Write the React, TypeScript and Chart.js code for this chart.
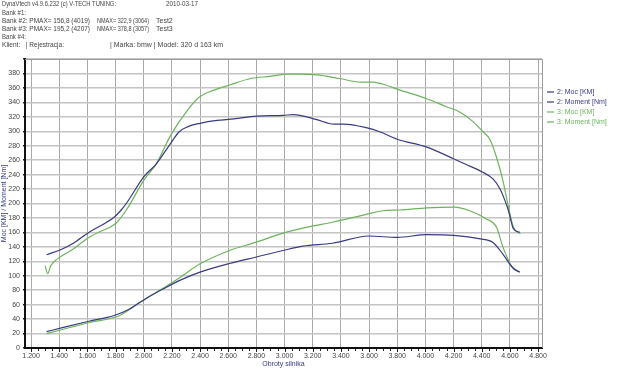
import React, { useEffect, useRef } from "react";
import { Chart, registerables } from "chart.js";

Chart.register(...registerables);

// ---- data ----
const rpmMoc2 = [1310, 1430, 1610, 1790, 1900, 2020, 2140, 2260, 2400, 2610, 2800, 2990, 3130, 3340, 3600, 3800, 4010, 4200, 4390, 4480, 4550, 4625, 4670];
const moc2 = [22.6, 28.6, 37, 45, 54, 69, 82, 94, 105, 117, 126, 135, 141, 145, 155, 153, 157, 156, 151, 146, 130, 110, 105];

const rpmMoment2 = [1310, 1410, 1500, 1610, 1700, 1790, 1840, 1880, 2000, 2090, 2190, 2250, 2310, 2400, 2520, 2640, 2800, 2990, 3060, 3110, 3230, 3350, 3420, 3580, 3680, 3800, 4010, 4200, 4290, 4400, 4480, 4530, 4565, 4590, 4625, 4670];
const moment2 = [129, 136, 145, 160, 170, 181, 191, 201, 237, 255, 283, 299, 306, 311, 315, 317, 321, 322, 323, 322, 316, 310, 310, 305, 299, 289, 278, 262, 254, 244, 234, 220, 204, 190, 165, 160];

const rpmMoc3 = [1310, 1430, 1610, 1830, 1970, 2140, 2260, 2400, 2610, 2800, 2990, 3180, 3340, 3580, 3700, 3820, 4010, 4210, 4315, 4430, 4505, 4550, 4610, 4670];
const moc3 = [20, 26, 35, 45, 63, 83, 98, 116.5, 135, 146.5, 159, 168, 174, 185, 190, 191, 194, 195, 190, 179, 167, 140, 114, 105];

const rpmMoment3 = [1300, 1318, 1340, 1385, 1500, 1610, 1700, 1760, 1810, 1880, 2000, 2090, 2190, 2310, 2400, 2500, 2610, 2760, 2900, 3020, 3110, 3230, 3390, 3540, 3630, 3700, 3820, 4010, 4150, 4240, 4340, 4400, 4460, 4505, 4550, 4590, 4625, 4675];
const moment3 = [114, 103, 114, 123, 137, 153, 162, 167, 174, 192, 232, 255, 294, 329, 348, 357, 364, 373, 376, 379, 379, 378, 373, 368, 368, 365, 357, 345, 334, 327, 313, 301, 288, 264, 232, 195, 167, 158];

const seriesLabels = ["2: Moc [KM]", "2: Moment [Nm]", "3: Moc [KM]", "3: Moment [Nm]"];

// [text, x, maxWidth]
const headerLines: [string, number, number][][] = [
  [["DynaVtech v4.9.6.232 (c) V-TECH TUNING:", 2, 114], ["2010-03-17", 166, 32]],
  [["Bank #1:", 2, 24]],
  [["Bank #2: PMAX= 156,8 (4019)", 2, 88], ["NMAX= 322,9 (3064)", 97, 52], ["Test2", 156, 20]],
  [["Bank #3: PMAX= 195,2 (4207)", 2, 88], ["NMAX= 378,8 (3057)", 97, 52], ["Test3", 156, 20]],
  [["Bank #4:", 2, 24]],
  [["Klient:   | Rejestracja:", 2, 62], ["| Marka: bmw | Model: 320 d 163 km", 110, 150]],
];

const xTitle = "Obroty silnika";
const yTitle = "Moc [KM] / Moment [Nm]";

const NAVY = "#3a3a82";
const GREEN = "#6db35e";
const FONT = "'Liberation Sans', Arial, sans-serif";

const zip = (xs: number[], ys: number[]) => xs.map((x, i) => ({ x, y: ys[i] }));

const fmtRpm = (v: number) => {
  const t = Math.floor(v / 1000);
  const r = Math.round(v % 1000);
  return t + "." + String(r).padStart(3, "0");
};

const overlayPlugin = {
  id: "overlay",
  beforeDraw(chart: any) {
    const ctx = chart.ctx;
    ctx.save();
    ctx.fillStyle = "#ffffff";
    ctx.fillRect(0, 0, chart.width, chart.height);
    ctx.restore();
  },
  afterDraw(chart: any) {
    const ctx = chart.ctx;
    const a = chart.chartArea;
    ctx.save();
    // header
    ctx.font = `7px ${FONT}`;
    ctx.fillStyle = "#444444";
    ctx.textBaseline = "middle";
    ctx.textAlign = "left";
    headerLines.forEach((line, i) => {
      line.forEach(([t, x, w]) => {
        const m = ctx.measureText(t).width;
        if (m > w) ctx.fillText(t, x, 4.5 + i * 8.2, w);
        else ctx.fillText(t, x, 4.5 + i * 8.2);
      });
    });
    // frame top/right
    ctx.strokeStyle = "#9a9a9a";
    ctx.lineWidth = 1;
    ctx.beginPath();
    ctx.moveTo(a.left, a.top + 0.5);
    ctx.lineTo(a.right + 0.5, a.top + 0.5);
    ctx.lineTo(a.right + 0.5, a.bottom);
    ctx.stroke();
    // minor ticks on x axis
    const xs = chart.scales.x;
    ctx.strokeStyle = "#222";
    ctx.beginPath();
    for (let v = 1200; v <= 4800; v += 50) {
      const px = Math.round(xs.getPixelForValue(v)) + 0.5;
      const len = v % 200 === 0 ? 3 : 2;
      ctx.moveTo(px, a.bottom + 1);
      ctx.lineTo(px, a.bottom + 1 + len);
    }
    ctx.stroke();
    // legend
    ctx.font = `7px ${FONT}`;
    chart.data.datasets.forEach((ds: any, i: number) => {
      const y = 92 + i * 10;
      ctx.strokeStyle = ds.borderColor;
      ctx.lineWidth = 1.2;
      ctx.beginPath();
      ctx.moveTo(547, y);
      ctx.lineTo(554, y);
      ctx.stroke();
      ctx.fillStyle = ds.borderColor;
      ctx.fillText(ds.label, 557, y);
    });
    ctx.restore();
  },
};

export default function App() {
  const ref = useRef<HTMLCanvasElement | null>(null);
  useEffect(() => {
    document.body.style.margin = "0";
    if (!ref.current) return;
    const mk = (label: string, data: any, color: string) => ({
      label,
      data,
      borderColor: color,
      backgroundColor: color,
      borderWidth: 1.2,
      pointRadius: 0,
      fill: false,
      cubicInterpolationMode: "monotone" as const,
    });
    const chart = new Chart(ref.current, {
      type: "line",
      data: {
        datasets: [
          mk(seriesLabels[0], zip(rpmMoc2, moc2), NAVY),
          mk(seriesLabels[1], zip(rpmMoment2, moment2), NAVY),
          mk(seriesLabels[2], zip(rpmMoc3, moc3), GREEN),
          mk(seriesLabels[3], zip(rpmMoment3, moment3), GREEN),
        ],
      },
      options: {
        animation: false,
        responsive: false,
        maintainAspectRatio: false,
        devicePixelRatio: 1,
        layout: { padding: { top: 59, right: 78, left: 0, bottom: 0 } },
        plugins: {
          legend: { display: false },
          tooltip: { enabled: false },
          title: { display: false },
        },
        scales: {
          x: {
            type: "linear",
            min: 1157,
            max: 4828,
            afterFit: (s: any) => {
              s.height = 20;
            },
            ticks: {
              stepSize: 200,
              includeBounds: false,
              autoSkip: false,
              maxRotation: 0,
              padding: 4,
              color: "#444",
              font: { family: FONT, size: 7 },
              callback: (v: any) => fmtRpm(Number(v)),
            },
            grid: { color: "#a9a9a9", lineWidth: 1, drawTicks: false },
            border: { display: true, color: "#111", width: 2 },
            title: {
              display: true,
              text: xTitle,
              color: "#3a3a82",
              font: { family: FONT, size: 7 },
              padding: { top: 0, bottom: 0 },
            },
          },
          y: {
            type: "linear",
            min: 0,
            max: 400,
            afterFit: (s: any) => {
              s.width = 25;
            },
            ticks: {
              stepSize: 20,
              padding: 3,
              color: "#444",
              font: { family: FONT, size: 7 },
              callback: (v: any) => (Number(v) >= 400 ? "" : String(v)),
            },
            grid: { color: "#c4c4c4", lineWidth: 1.5, drawTicks: true, tickLength: 2, tickColor: "#222" },
            border: { display: true, color: "#111", width: 2 },
            title: {
              display: true,
              text: yTitle,
              color: "#3a3a82",
              font: { family: FONT, size: 7 },
              padding: { top: 0, bottom: 0 },
            },
          },
        },
      },
      plugins: [overlayPlugin],
    });
    return () => chart.destroy();
  }, []);
  return (
    <div style={{ position: "absolute", left: 0, top: 0, width: 620, height: 368 }}>
      <canvas ref={ref} width={620} height={368} style={{ width: 620, height: 368, display: "block" }} />
    </div>
  );
}
